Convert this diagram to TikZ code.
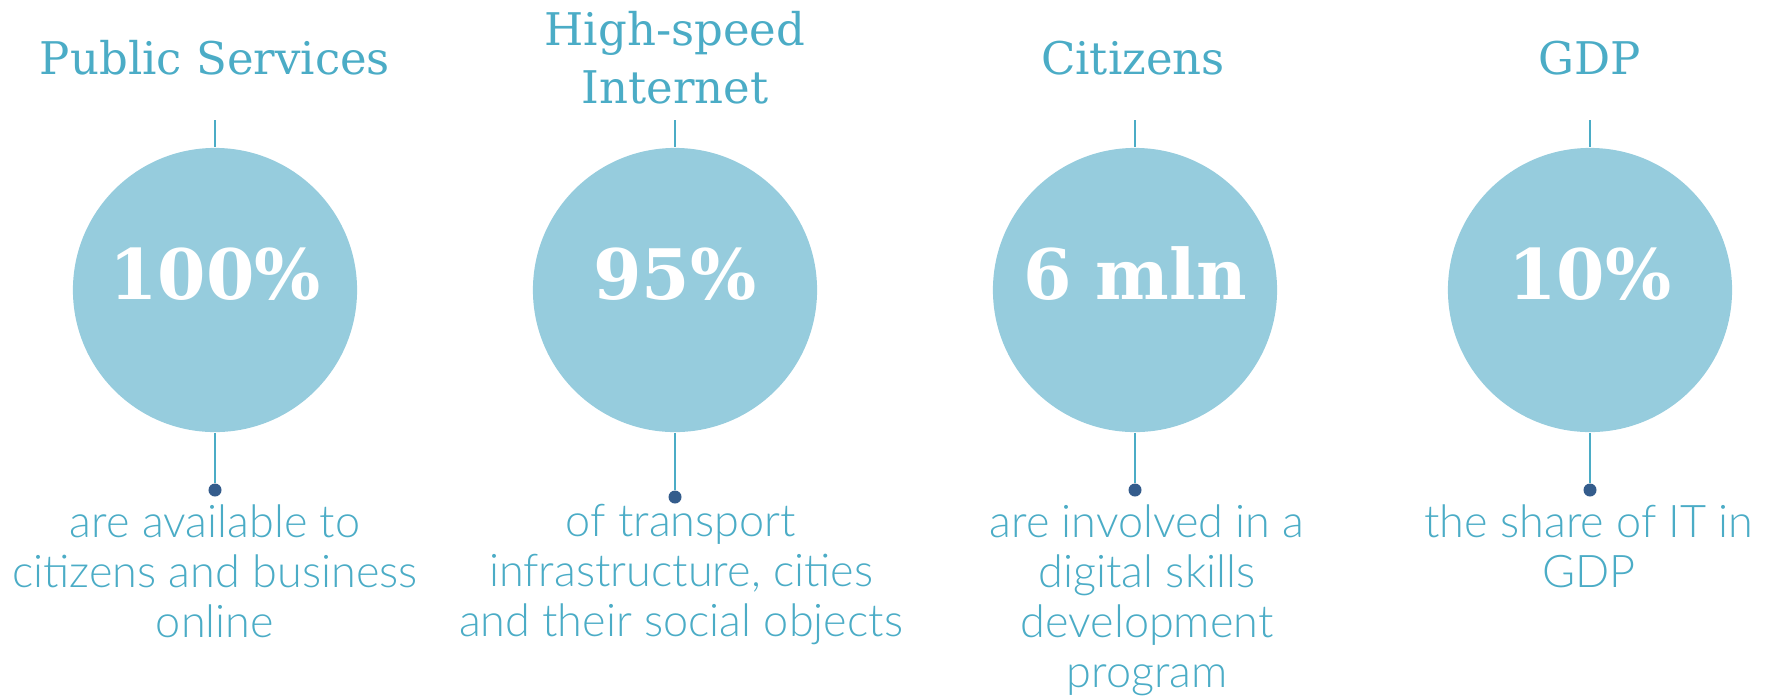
\documentclass[tikz,border=0pt]{standalone}
\usepackage{fontspec}
\newfontfamily\headfont{DejaVu Serif}
\newfontfamily\bodyfont{Lato Light}
\definecolor{aqua}{HTML}{4BACC6}
\definecolor{bubblefill}{HTML}{96CCDD}
\definecolor{dotblue}{HTML}{345C8C}
\begin{document}
\begin{tikzpicture}[x=0.01cm,y=-0.01cm,
    bubble/.style={circle,fill=bubblefill,minimum size=2.84cm,inner sep=0pt,text=white,
      font=\headfont\bfseries\fontsize{19.8}{20}\selectfont,text height=0.77em,text depth=0.22em},
    title/.style={anchor=south,inner sep=0pt,align=center,text=aqua,
      font=\headfont\fontsize{12.8}{16.5}\selectfont},
    caption/.style={anchor=north,inner sep=0pt,align=center,text=aqua,
      font=\bodyfont\fontsize{12.8}{14.2}\selectfont},
    pin/.style={circle,fill=dotblue,inner sep=0pt,minimum size=0.13cm},
    stem/.style={draw=aqua,line width=0.8pt}]
    \useasboundingbox (0,0) rectangle (1769,699);

    \node[bubble] (b1) at (215,290) {100\%};
    \node[bubble] (b2) at (675,290) {95\%};
    \node[bubble] (b3) at (1135,290) {6 mln};
    \node[bubble] (b4) at (1590,290) {10\%};

    \node[title] (t1) at (215,76) {Public Services};
    \node[title] (t2) at (675,105) {High-speed\\Internet};
    \node[title] (t3) at (1133,76) {Citizens};
    \node[title] (t4) at (1590,76) {GDP};

    \coordinate (top1) at (215,120);
    \coordinate (top2) at (675,120);
    \coordinate (top3) at (1135,120);
    \coordinate (top4) at (1590,120);

    \node[pin] (p1) at (215,490) {};
    \node[pin] (p2) at (675,497) {};
    \node[pin] (p3) at (1135,490) {};
    \node[pin] (p4) at (1590,490) {};

    \draw[stem] (top1) -- (b1.north);
    \draw[stem] (top2) -- (b2.north);
    \draw[stem] (top3) -- (b3.north);
    \draw[stem] (top4) -- (b4.north);
    \draw[stem] (b1.south) -- (p1);
    \draw[stem] (b2.south) -- (p2);
    \draw[stem] (b3.south) -- (p3);
    \draw[stem] (b4.south) -- (p4);

    \node[caption] (c1) at (215,504) {are available to\\citizens and business\\online};
    \node[caption] (c2) at (681,504) {of transport\\infrastructure, cities\\and their social objects};
    \node[caption] (c3) at (1147,504) {are involved in a\\digital skills\\development\\program};
    \node[caption] (c4) at (1589,504) {the share of IT in\\GDP};
\end{tikzpicture}
\end{document}
